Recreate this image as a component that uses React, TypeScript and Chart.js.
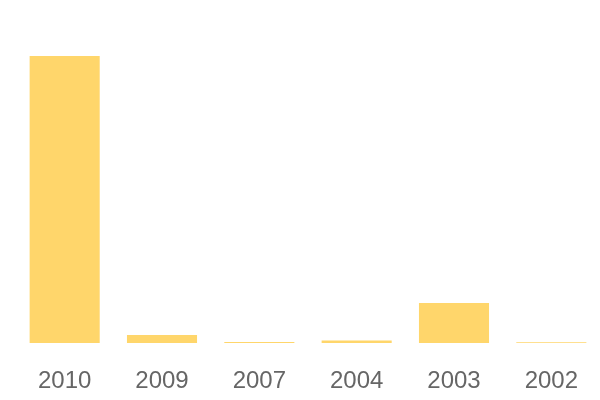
import React, { useEffect, useRef } from "react";
import { Chart, registerables } from "chart.js";

Chart.register(...registerables);

const categories = ["2010", "2009", "2007", "2004", "2003", "2002"];
const values = [3580, 100, 12, 30, 500, 10];
const yMax = 4280;

export default function App() {
  const ref = useRef<HTMLCanvasElement>(null);
  useEffect(() => {
    document.body.style.margin = "0";
    const chart = new Chart(ref.current!, {
      type: "bar",
      data: {
        labels: categories,
        datasets: [
          {
            data: values,
            backgroundColor: "#FFD66B",
            barPercentage: 0.9,
            categoryPercentage: 0.8,
          },
        ],
      },
      options: {
        responsive: false,
        animation: false,
        layout: { padding: { left: 16, right: 0, top: 0, bottom: 0 } },
        plugins: { legend: { display: false }, tooltip: { enabled: false } },
        scales: {
          x: {
            grid: { display: false, drawTicks: false },
            border: { display: false },
            afterFit: (scale: any) => {
              scale.height = 57;
              scale.paddingLeft = 0;
              scale.paddingRight = 0;
            },
            ticks: {
              color: "#666",
              padding: 24,
              maxRotation: 0,
              font: { size: 24, family: "'Liberation Sans', Arial, sans-serif" },
            },
          },
          y: {
            display: false,
            min: 0,
            max: yMax,
          },
        },
      },
    });
    return () => chart.destroy();
  }, []);
  return <canvas ref={ref} width={600} height={400} style={{ display: "block" }} />;
}
